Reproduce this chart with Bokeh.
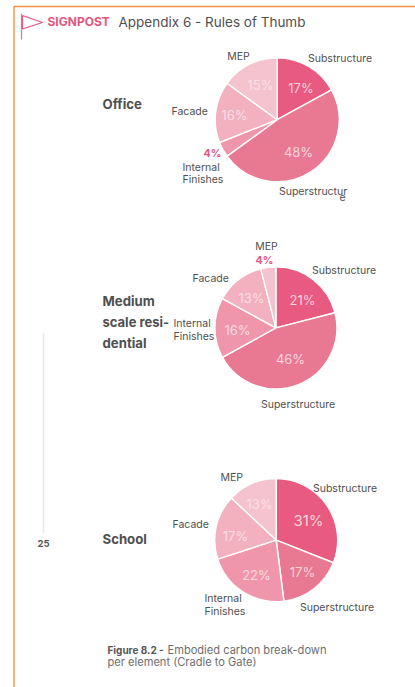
import numpy as np
from bokeh.embed import file_html
from bokeh.models import ColumnDataSource, Range1d
from bokeh.plotting import figure
from bokeh.resources import INLINE
from bokeh.core.properties import value

# Share of embodied carbon per element, clockwise from twelve o'clock
elements = ["Substructure", "Superstructure", "Internal Finishes", "Facade", "MEP"]
office = [17, 48, 4, 16, 15]
residential = [21, 46, 16, 13, 4]
school = [31, 17, 22, 17, 13]
colors = ["#E85A80", "#E97892", "#EF96AB", "#F3B1C0", "#F5C3CF"]

FONT = "Inter"
INK = "#505050"
PINK = "#E4557C"
SHARE = "#FBE4EA"

p = figure(width=415, height=687, output_backend="svg", toolbar_location=None,
           x_range=Range1d(0, 415), y_range=Range1d(687, 0),
           min_border=0, outline_line_color=None, background_fill_color="white")
p.axis.visible = False
p.grid.visible = False


def pie(values, cx, cy, radius):
    turns = np.cumsum([0] + values) / 100 * 2 * np.pi
    src = ColumnDataSource(dict(
        x=[cx] * len(values), y=[cy] * len(values),
        start=np.pi / 2 - turns[1:], end=np.pi / 2 - turns[:-1],
        color=colors, element=elements, share=values))
    p.wedge(x="x", y="y", radius=radius, start_angle="start", end_angle="end",
            fill_color="color", line_color="white", line_width=1.4, source=src)


def label(x, y, text, size=10.5, color=INK, align="left", style="normal", alpha=1.0):
    p.text([x], [y], text=[text], text_font=value(FONT), text_font_size=f"{size}px",
           text_color=color, text_align=align, text_baseline="middle",
           text_font_style=style, text_alpha=alpha)


pie(office, 276.7, 119.2, 62)
pie(residential, 275.4, 327.4, 61)
pie(school, 275.7, 539.6, 61.5)

# Page frame, flag and page rule
p.line([13.5, 13.5, 415], [687, 6, 6], line_color="#F58F45", line_width=1.4)
p.line([21, 21], [13, 39], line_color="#9A9A9A", line_width=1.2)
p.line([22, 42, 22, 22], [15, 22, 28.5, 15], line_color=PINK, line_width=1.2)
p.line([43, 43], [333, 532], line_color="#E8E8E8", line_width=1.5)

# Header
label(47, 21, "SIGNPOST", 12, PINK, style="bold")
label(118, 21, "Appendix 6 - Rules of Thumb", 13.5)
label(43, 543, "25", 9.5, "#555555", "center", "bold")

# Building type headings
label(102, 103.5, "Office", 13.2, style="bold")
label(102, 300, "Medium", 13.2, style="bold")
label(102, 321, "scale resi-", 13, style="bold")
label(102, 342, "dential", 13.2, style="bold")
label(102, 538, "School", 13.2, style="bold")

# Office labels
label(238, 56, "MEP", align="center")
label(307.5, 58, "Substructure")
label(171, 110.5, "Facade")
label(182, 167, "Internal")
label(182, 179, "Finishes")
label(278.5, 191, "Superstructur")
label(339, 196, "e")
label(212, 153, "4%", 10.5, PINK, "center", "bold")
for x, y, t in [(300.5, 87, "17%"), (260, 84, "15%"), (234, 114, "16%"), (298, 151, "48%")]:
    label(x, y, t, 13, SHARE, "center", alpha=0.88)

# Residential labels
label(266, 246, "MEP", align="center")
label(311.5, 270, "Substructure")
label(192, 278, "Facade")
label(173, 323, "Internal")
label(173, 336, "Finishes")
label(260.5, 404, "Superstructure")
label(264, 260, "4%", 10.5, PINK, "center", "bold")
for x, y, t in [(302, 299, "21%"), (251, 297, "13%"), (237, 329, "16%"), (290, 358, "46%")]:
    label(x, y, t, 13, SHARE, "center", alpha=0.88)

# School labels
label(220, 477, "MEP")
label(312.5, 488, "Substructure")
label(172, 524, "Facade")
label(204, 598, "Internal")
label(204, 611, "Finishes")
label(299.5, 607, "Superstructure")
for x, y, t, s in [(308, 520, "31%", 15), (259, 503, "13%", 13), (235, 535, "17%", 13),
                   (256, 574, "22%", 13), (302, 571, "17%", 13)]:
    label(x, y, t, s, SHARE, "center", alpha=0.88)

# Caption
label(107, 649, "Figure 8.2 -", 10, "#555555", style="bold")
label(167, 649, "Embodied carbon break-down", 11.1, "#6E6E6E")
label(107, 661, "per element (Cradle to Gate)", 11.1, "#6E6E6E")

open("out.html", "w").write(file_html(p, INLINE))
